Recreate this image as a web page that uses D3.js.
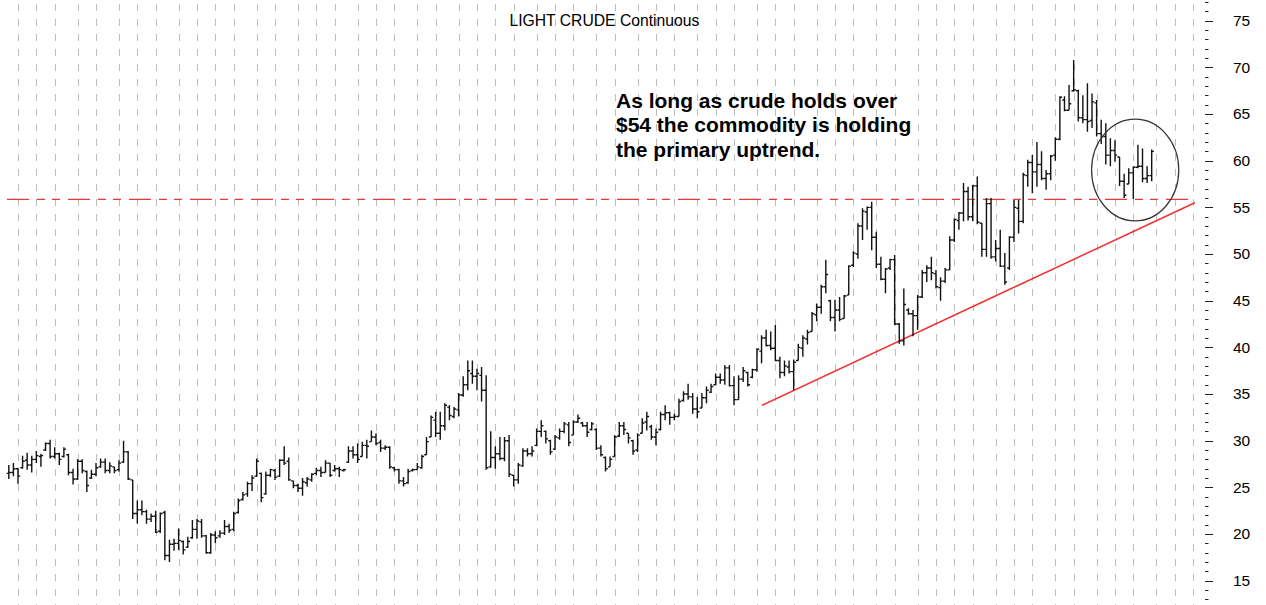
<!DOCTYPE html>
<html><head><meta charset="utf-8">
<script src="https://cdn.jsdelivr.net/npm/d3@7"></script>
<style>html,body{margin:0;padding:0;background:#fff;overflow:hidden}</style>
</head><body><svg id="c" width="1266" height="605"></svg>
<script>
// ---- DATA (weekly bars, Fridays, first bar 2001-03-23) ----
const firstWeek = new Date(2001, 2, 23);
const weeksShown = 258; // x axis extends to early March 2006
const open = [
26.5,26.6,27.0,27.1,27.9,27.4,28.0,28.3,29.0,29.7,
28.3,28.6,28.3,28.5,26.6,25.9,27.8,26.7,26.0,26.4,
27.2,27.7,26.8,27.2,26.9,27.7,28.8,25.8,22.2,22.6,
22.4,21.6,21.9,20.3,22.3,17.7,18.9,19.0,19.2,18.6,
19.6,20.5,21.3,19.8,18.0,19.9,19.8,20.1,20.8,20.5,
22.3,23.7,24.3,25.4,26.2,26.5,24.3,26.3,26.8,26.2,
27.9,27.8,25.7,25.2,24.9,25.5,25.8,26.5,26.8,26.6,
27.6,26.8,27.0,26.8,27.7,28.9,28.5,28.3,29.5,29.9,
30.4,29.8,29.2,29.3,27.1,26.9,25.7,25.5,26.8,26.9,
27.1,28.5,30.4,32.2,30.8,31.6,33.6,32.6,33.3,34.9,
36.0,37.2,36.9,37.0,35.4,27.2,28.2,28.6,28.1,30.0,
26.3,25.8,27.3,28.9,28.6,29.5,31.0,31.0,30.0,29.1,
30.3,31.0,31.7,30.6,32.0,31.9,31.6,31.2,31.2,29.2,
28.2,27.2,28.3,30.5,31.6,30.8,30.0,29.0,30.8,32.0,
31.5,30.4,31.2,32.8,33.0,32.5,32.6,34.3,35.0,34.7,
33.4,33.5,34.6,35.2,36.0,36.8,36.5,37.8,35.9,34.4,
36.6,37.3,36.8,37.6,39.6,41.0,40.2,39.9,38.6,37.3,
37.9,37.4,38.6,39.9,40.9,41.7,43.5,44.3,46.5,45.0,
43.2,44.0,43.1,45.6,48.8,50.0,53.0,54.5,55.0,51.8,
48.9,47.3,48.5,49.4,42.5,40.7,44.0,43.6,43.4,45.4,
48.0,48.5,47.9,46.4,47.1,48.3,51.5,53.6,54.4,56.7,
54.0,57.3,53.3,50.5,55.4,49.7,50.6,48.7,48.5,51.8,
54.9,53.5,58.4,59.8,58.8,59.6,58.1,58.6,60.6,62.3,
66.5,65.4,67.5,67.5,64.6,64.4,64.3,66.2,62.9,62.6,
60.6,61.1,60.4,57.8,57.5,58.7,59.3,59.4,58.1,58.4];
const high = [
27.4,27.6,27.1,28.4,28.7,28.4,28.9,28.6,29.8,30.1,
29.3,28.7,29.3,28.6,27.0,28.0,28.0,26.8,26.9,27.6,
28.1,28.1,27.7,27.2,27.9,30.0,28.9,25.8,23.6,23.6,
22.6,22.2,22.5,22.3,22.5,19.4,19.5,20.6,19.3,19.7,
21.5,21.6,21.6,19.9,20.1,20.3,20.4,21.5,21.1,22.4,
23.8,24.5,25.6,26.3,28.1,26.6,26.7,27.0,27.0,28.0,
29.4,28.2,25.7,25.4,26.0,26.1,26.5,27.1,27.2,27.9,
27.6,27.4,27.2,27.0,29.4,29.4,29.7,29.9,30.1,31.1,
30.8,30.1,29.5,29.4,27.2,27.0,26.1,27.0,27.0,27.6,
28.5,30.4,32.7,33.1,33.1,34.0,33.8,33.6,35.1,36.9,
38.6,38.6,37.7,37.9,37.0,31.0,29.4,30.4,30.4,30.6,
26.3,27.6,29.2,29.2,29.4,31.3,32.2,31.1,30.1,30.6,
31.3,32.0,32.0,32.2,32.8,32.0,32.0,32.0,31.3,29.5,
28.3,28.3,30.6,32.0,32.0,30.8,30.1,30.8,32.4,33.1,
31.7,31.3,33.1,33.8,33.1,32.9,34.5,35.3,36.1,35.1,
34.7,35.1,35.8,36.1,37.2,37.2,38.1,38.1,36.9,37.0,
37.9,37.4,37.7,39.9,41.3,41.9,41.7,42.4,39.0,38.6,
38.6,38.7,40.4,41.3,41.9,43.8,44.7,46.7,49.4,45.1,
45.1,45.4,45.6,48.8,50.3,53.3,54.9,55.1,55.6,52.4,
49.7,48.5,49.5,49.9,42.6,46.3,44.2,44.0,45.6,48.3,
48.8,49.7,48.3,47.5,48.5,51.9,53.8,54.5,57.6,57.2,
57.4,58.3,53.3,56.0,56.0,51.5,52.6,50.1,51.9,55.8,
55.8,58.7,60.1,60.6,62.0,61.0,59.0,60.6,62.5,66.9,
66.9,68.1,70.8,67.6,67.0,68.3,67.2,66.5,64.4,64.0,
62.4,62.2,60.4,58.6,59.2,59.4,61.7,61.3,59.4,61.2];
const low = [
25.9,26.2,25.4,27.0,26.9,26.6,27.6,27.2,28.9,28.1,
28.1,27.4,28.2,26.3,25.3,25.8,26.5,24.5,25.9,26.2,
27.1,26.5,26.5,26.5,26.7,27.6,25.8,21.6,21.1,22.0,
21.1,21.3,20.1,20.1,17.2,17.0,18.2,18.3,17.8,18.5,
19.5,19.5,19.6,17.9,17.9,19.0,19.6,19.9,20.1,20.3,
22.2,23.6,24.0,24.6,26.1,23.4,24.2,26.1,25.8,26.1,
27.4,25.7,24.9,24.5,24.1,25.1,25.6,26.3,26.1,26.6,
26.1,26.7,26.1,26.7,27.6,28.1,27.6,28.3,28.1,29.9,
29.5,28.8,29.0,27.0,26.7,25.4,25.1,25.4,26.7,26.9,
27.0,28.5,30.4,30.4,30.1,31.1,32.2,32.4,32.6,34.7,
35.4,36.1,35.4,34.2,26.9,27.1,27.0,27.9,27.8,26.1,
25.1,25.4,27.2,28.3,28.3,29.4,30.4,29.7,28.5,29.0,
30.1,30.8,29.4,30.6,31.9,31.5,30.4,31.1,29.0,28.3,
26.7,27.2,28.3,30.4,30.6,29.7,28.5,28.8,30.8,31.1,
30.1,29.5,31.1,32.2,31.7,32.2,32.6,34.2,34.4,32.9,
32.4,33.5,34.0,35.1,36.0,36.1,36.0,35.8,33.8,34.4,
36.3,35.8,36.7,37.4,38.3,40.1,39.7,38.5,36.7,36.9,
37.2,35.4,38.6,39.0,40.3,41.7,42.8,43.6,45.8,42.8,
41.7,42.8,43.1,45.6,48.6,49.5,51.5,52.6,50.4,48.5,
47.2,45.8,48.3,42.4,40.4,40.2,43.5,41.2,41.9,45.3,
47.0,47.2,46.3,45.0,46.9,48.3,51.3,52.6,53.5,53.6,
53.5,53.2,49.7,49.7,49.5,49.2,48.6,46.7,48.3,51.3,
52.2,53.3,57.2,56.5,57.2,57.9,56.9,57.9,60.0,62.2,
65.3,65.4,67.4,64.2,64.0,63.1,63.5,62.6,61.8,59.6,
59.4,59.9,57.3,56.0,57.5,55.9,59.2,57.7,57.6,57.8];
const close = [
26.6,27.0,26.2,27.8,27.4,28.0,28.4,28.4,29.7,28.3,
28.6,28.0,29.1,26.6,25.9,27.8,26.8,25.2,26.4,27.1,
27.7,26.8,27.3,26.8,27.6,28.8,25.9,22.2,22.6,22.4,
21.6,21.9,20.2,22.2,17.7,18.9,19.0,19.3,18.3,19.2,
20.5,21.4,19.8,18.0,19.9,19.6,20.1,20.8,20.4,22.2,
23.6,24.2,25.4,26.0,27.8,23.9,26.3,26.9,26.1,27.9,
27.6,25.8,25.2,24.9,25.6,25.9,26.4,26.8,26.6,27.6,
26.3,27.0,26.9,26.9,28.9,28.5,28.0,29.5,29.4,30.4,
29.7,29.2,29.3,27.2,26.9,25.7,25.4,26.7,26.9,27.2,
28.3,29.9,32.5,30.8,31.6,33.8,32.7,33.4,34.9,36.0,
37.5,36.9,37.2,35.4,27.1,28.2,28.6,28.1,30.0,26.4,
25.8,27.4,28.9,28.6,28.9,31.0,31.6,30.2,28.8,30.4,
31.0,31.8,29.8,32.0,32.4,31.6,30.9,31.8,29.2,28.5,
27.0,28.0,30.4,31.6,31.2,30.3,28.9,30.6,31.9,32.6,
30.4,30.9,32.8,33.0,32.5,32.6,34.2,35.0,34.7,33.4,
33.1,34.6,35.4,35.8,36.8,36.5,37.8,35.9,34.4,36.6,
37.5,36.0,37.6,39.8,41.0,40.2,39.9,38.6,37.3,38.0,
37.4,38.4,40.0,41.0,41.6,43.6,44.3,46.5,47.8,43.2,
44.0,43.0,45.5,48.7,50.1,53.0,54.6,55.0,51.8,48.9,
47.3,48.4,49.4,42.5,40.7,44.6,43.6,43.4,45.4,48.0,
48.5,48.0,46.5,47.1,48.3,51.5,53.7,54.4,56.7,54.0,
57.3,53.4,50.5,55.4,49.7,50.6,48.7,47.0,51.8,55.0,
53.5,58.5,59.8,58.8,59.6,58.1,58.6,60.5,62.3,66.8,
65.4,66.1,67.6,64.6,64.4,64.2,66.3,62.9,62.6,60.6,
61.1,60.6,57.8,56.3,58.7,59.3,59.4,58.1,58.4,61.0];
const yTickLabels = [15,20,25,30,35,40,45,50,55,60,65,70,75];
const yMinorRange = [13, 77];
const titleText = "LIGHT CRUDE Continuous";
const noteLines = ["As long as crude holds over", "$54 the commodity is holding", "the primary uptrend."];
const supportPrice = 55.85;
const supportSpan = [-0.4, 258.4];          // in weeks
const trendWeeks = [164.1, 258.4];
const trendPrices = [33.8, 55.5];
const circleCenter = [245.4, 59.0];         // week, price
const circleHalf = [9.5, 5.45];             // weeks, dollars

// ---- SCALES ----
const svg = d3.select("#c");
const x = d3.scaleLinear().domain([0, weeksShown]).range([8.8, 1193]);
const y = d3.scaleLinear().domain([15, 75]).range([580.7, 20.7]);
const FONT = "Arial, 'Liberation Sans', sans-serif";

// ---- monthly vertical grid (first weekly bar of each month) ----
const weekIdx = d3.range(0, weeksShown + 1);
const monthStarts = weekIdx.filter(i => d3.timeDay.offset(firstWeek, 7 * i).getDate() <= 7);
svg.append("g").selectAll("line").data(monthStarts).join("line")
  .attr("x1", d => Math.round(x(d)) + 0.5).attr("x2", d => Math.round(x(d)) + 0.5)
  .attr("y1", 0).attr("y2", 605)
  .attr("stroke", "#bdbdbd").attr("stroke-width", 1)
  .attr("stroke-dasharray", "7,8").attr("stroke-dashoffset", -4);

// ---- support level (dash-dot red) ----
svg.append("line")
  .attr("x1", x(supportSpan[0])).attr("x2", x(supportSpan[1]))
  .attr("y1", y(supportPrice)).attr("y2", y(supportPrice))
  .attr("stroke", "#e8383a").attr("stroke-width", 1.3)
  .attr("stroke-dasharray", "22,8,8,7,8,8");

// ---- trend line ----
svg.append("line")
  .attr("x1", x(trendWeeks[0])).attr("y1", y(trendPrices[0]))
  .attr("x2", x(trendWeeks[1])).attr("y2", y(trendPrices[1]))
  .attr("stroke", "#f03030").attr("stroke-width", 1.5);

// ---- OHLC bars ----
const bars = svg.append("g").attr("stroke", "#111").attr("stroke-width", 1.4).attr("fill", "none");
const idx = d3.range(close.length);
bars.selectAll("path").data(idx).join("path")
  .attr("d", i => {
    const xi = x(i);
    return `M${xi},${y(high[i])}V${y(low[i])}` +
           `M${xi - 2.2},${y(open[i])}H${xi}` +
           `M${xi},${y(close[i])}H${xi + 2.2}`;
  });

// ---- ellipse ----
svg.append("ellipse")
  .attr("cx", x(circleCenter[0])).attr("cy", y(circleCenter[1]))
  .attr("rx", x(circleHalf[0]) - x(0)).attr("ry", y(0) - y(circleHalf[1]))
  .attr("fill", "none").attr("stroke", "#333").attr("stroke-width", 1.2);

// ---- right axis ----
const ax = svg.append("g");
const minor = d3.range(yMinorRange[0], yMinorRange[1] + 1);
ax.selectAll("line").data(minor).join("line")
  .attr("x1", 1205).attr("x2", d => yTickLabels.includes(d) ? 1213 : 1208.5)
  .attr("y1", d => Math.round(y(d)) + 0.5).attr("y2", d => Math.round(y(d)) + 0.5)
  .attr("stroke", "#222").attr("stroke-width", 1);
ax.selectAll("text").data(yTickLabels).join("text")
  .attr("x", 1233).attr("y", d => y(d)).attr("dy", "0.35em")
  .attr("font-family", FONT).attr("font-size", 15.5).attr("fill", "#000")
  .text(d => d);

// ---- title ----
svg.append("text").attr("x", 509.5).attr("y", 26)
  .attr("font-family", FONT).attr("font-size", 15.7).attr("fill", "#000")
  .text(titleText);

// ---- note ----
svg.append("g").selectAll("text").data(noteLines).join("text")
  .attr("x", 616).attr("y", (d, i) => 107.5 + i * 24.6)
  .attr("font-family", FONT).attr("font-size", 21).attr("font-weight", "bold").attr("fill", "#000")
  .text(d => d);
</script></body></html>
